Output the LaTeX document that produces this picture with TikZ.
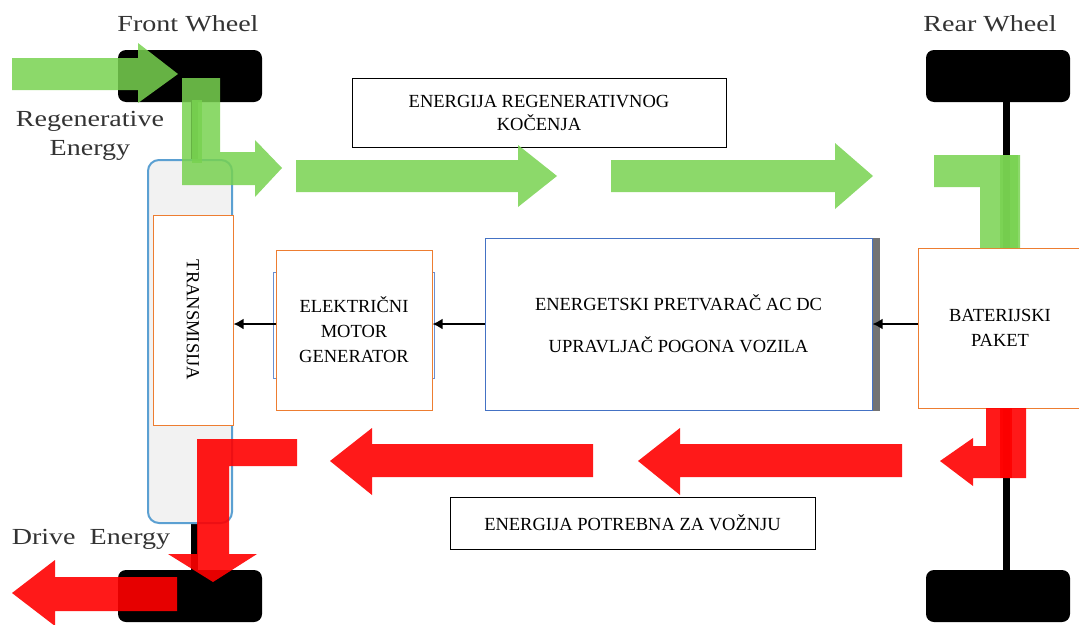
\documentclass[tikz,border=0pt]{standalone}
\usepackage{fontspec}
\setmainfont{Liberation Serif}
\newfontfamily\labelfont[FakeStretch=1.22]{Liberation Serif}
\usepackage{graphicx}
\usetikzlibrary{arrows.meta}
\usetikzlibrary{positioning}

\definecolor{flowgreen}{RGB}{120,210,80}
\definecolor{flowred}{RGB}{255,0,0}
\definecolor{boxorange}{RGB}{237,125,49}
\definecolor{boxblue}{RGB}{68,114,196}
\definecolor{transblue}{RGB}{91,160,210}

\begin{document}
\begin{tikzpicture}[x=1pt,y=-1pt,
    wheel/.style={fill=black,rounded corners=8pt,minimum width=144pt,minimum height=52pt,inner sep=0pt},
    axle/.style={draw=black,line width=7pt},
    wlabel/.style={text=black!80,font=\labelfont\fontsize{23}{29}\selectfont,align=center,inner sep=0pt},
    obox/.style={draw=boxorange,line width=1pt,fill=white,align=center,inner sep=0pt,font=\fontsize{18.5}{25}\selectfont},
    bbox/.style={draw=boxblue,line width=1pt,fill=white,align=center,inner sep=0pt,font=\fontsize{18.5}{42}\selectfont},
    textbox/.style={draw=black,line width=0.8pt,fill=white,align=center,inner sep=0pt,font=\fontsize{18.5}{23}\selectfont},
    greenflow/.style={fill=flowgreen,fill opacity=0.85},
    redflow/.style={fill=flowred,fill opacity=0.9},
    smallarrow/.style={draw=black,line width=2.6pt,-{Latex[length=10pt,width=11pt]}}]
  \useasboundingbox (0,0) rectangle (1079,624);

  % wheels and axles
  \begin{scope}[every node/.style={wheel}]
    \node (fwtop) at (190,76) {};
    \node (rwtop) at (998,76) {};
    \node (fwbot) at (190,596) {};
    \node (rwbot) at (998,596) {};
  \end{scope}
  \draw[axle] ([xshift=4pt]fwtop.south) -- ([xshift=4pt]fwbot.north);
  \draw[axle] ([xshift=8pt]rwtop.south) -- ([xshift=8pt]rwbot.north);

  \node[wlabel] (fwlabel) at (188,24) {Front Wheel};
  \node[wlabel] (rwlabel) at (990,24) {Rear Wheel};
  \node[wlabel] (regenlabel) at (90,136) {Regenerative\\Energy};
  \node[wlabel] (drivelabel) at (91,539) {Drive\ \ Energy};

  % transmission
  \node[draw=transblue,line width=2pt,fill=black!5,rounded corners=11pt,
        minimum width=84pt,minimum height=363pt] (trans) at (190,341.5) {};
  \node[obox,minimum width=80pt,minimum height=210pt] (tbox) at (193,320) {\rotatebox{-90}{TRANSMISIJA}};

  % blocks
  \draw[boxblue!80,line width=1pt] (273,272) rectangle (434,378);
  \node[obox,minimum width=156pt,minimum height=160pt] (motor) at (354,330) {ELEKTRIČNI\\MOTOR\\GENERATOR};
  \node[bbox,minimum width=387pt,minimum height=172pt] (conv) at (678.5,324) {ENERGETSKI PRETVARAČ AC DC\\UPRAVLJAČ POGONA VOZILA};
  \fill[black!55] (conv.north east) rectangle ([xshift=7pt]conv.south east);
  \node[obox,minimum width=164pt,minimum height=160pt] (batt) at (1000,328) {BATERIJSKI\\PAKET};

  \node[textbox,minimum width=374pt,minimum height=69pt] (regenbox) at (539,112.5) {ENERGIJA REGENERATIVNOG\\KOČENJA};
  \node[textbox,minimum width=365pt,minimum height=52pt] (drivebox) at (632.5,523) {ENERGIJA POTREBNA ZA VOŽNJU};

  % signal arrows
  \draw[smallarrow] (batt.west |- conv) -- (conv.east);
  \draw[smallarrow] (conv.west) -- (motor.east |- conv);
  \draw[smallarrow] (motor.west |- conv) -- (tbox.east |- conv);

  % regenerative energy flow
  \fill[greenflow] (12,58) -- (138,58) -- (138,43) -- (178,74) -- (138,103) -- (138,90) -- (12,90) -- cycle;
  \fill[greenflow] (182,78) -- (220,78) -- (220,152) -- (255,152) -- (255,140) -- (282,168)
                   -- (255,197) -- (255,185) -- (182,185) -- cycle;
  \fill[greenflow] (192,100) rectangle (202,163);
  \fill[greenflow] (296,160) -- (518,160) -- (518,145) -- (557,176) -- (518,207) -- (518,192) -- (296,192) -- cycle;
  \fill[greenflow] (611,160) -- (835,160) -- (835,143) -- (873,176) -- (835,209) -- (835,192) -- (611,192) -- cycle;
  \fill[greenflow] (934,155) -- (1020,155) -- (1020,248) -- (980,248) -- (980,187) -- (934,187) -- cycle;
  \fill[greenflow] (1000,155) rectangle (1018,248);

  % drive energy flow
  \fill[redflow] (986,408) -- (1026,408) -- (1026,478) -- (973,478) -- (973,486) -- (940,461)
                 -- (973,438) -- (973,446) -- (986,446) -- cycle;
  \fill[redflow] (1000,408) rectangle (1012,478);
  \fill[redflow] (902,444) -- (680,444) -- (680,428) -- (638,461) -- (680,495) -- (680,477) -- (902,477) -- cycle;
  \fill[redflow] (593,444) -- (372,444) -- (372,428) -- (330,461) -- (372,495) -- (372,477) -- (593,477) -- cycle;
  \fill[redflow] (297,439) -- (297,466) -- (229,466) -- (229,554) -- (257,554) -- (213,582)
                 -- (168,554) -- (197,554) -- (197,439) -- cycle;
  \fill[redflow] (177,577) -- (55,577) -- (55,560) -- (12,593) -- (55,626) -- (55,611) -- (177,611) -- cycle;
\end{tikzpicture}
\end{document}
